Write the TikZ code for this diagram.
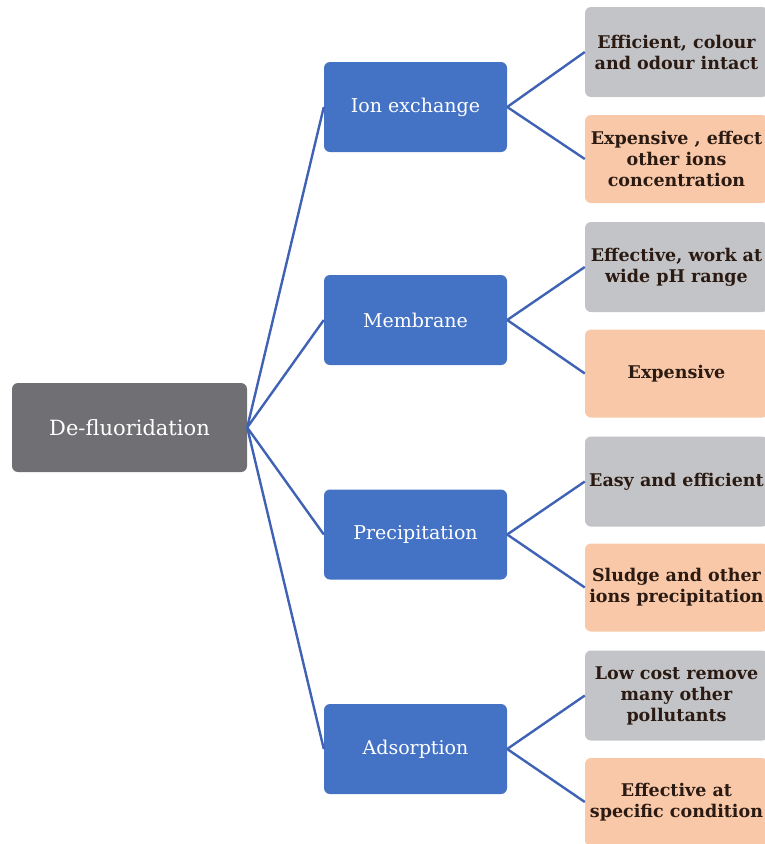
\documentclass[tikz,border=0pt]{standalone}
\usepackage{fontspec}
\setmainfont{DejaVu Serif}
\definecolor{rootgray}{HTML}{707074}
\definecolor{bluebox}{HTML}{4472C4}
\definecolor{linkblue}{HTML}{3F62B4}
\definecolor{lightgray}{HTML}{C3C4C8}
\definecolor{lightorange}{HTML}{F8C8A8}
\definecolor{darktext}{HTML}{2A1A12}
\begin{document}
\begin{tikzpicture}[x=1pt,y=-1pt,
  box/.style={rectangle,rounded corners=6pt,draw=none,align=center,inner sep=1pt},
  rootbox/.style={box,fill=rootgray,text=white,minimum width=235pt,minimum height=89pt,font=\fontsize{21}{25}\selectfont},
  methodbox/.style={box,fill=bluebox,text=white,minimum width=183pt,minimum height=90pt,font=\fontsize{19}{23}\selectfont},
  probox/.style={box,fill=lightgray,text=darktext,minimum width=183pt,minimum height=90pt,font=\bfseries\fontsize{17.5}{21}\selectfont},
  conbox/.style={box,fill=lightorange,text=darktext,minimum width=183pt,minimum height=88pt,font=\bfseries\fontsize{17.5}{21}\selectfont},
  link/.style={draw=linkblue,line width=2.4pt}]
\useasboundingbox (0,0) rectangle (765,844);
\begin{scope}
\clip (0,0) rectangle (765,844);
\node[rootbox] (root) at (129.5,427.5) {De-fluoridation};

\node[methodbox] (ion) at (415.5,107) {Ion exchange};
\node[methodbox] (mem) at (415.5,320) {Membrane};
\node[methodbox] (pre) at (415.5,534.5) {Precipitation};
\node[methodbox] (ads) at (415.5,749) {Adsorption};

\node[probox] (ionp) at (676.5,52) {Efficient, colour\\and odour intact};
\node[conbox] (ionc) at (676.5,159) {Expensive , effect\\other ions\\concentration};
\node[probox] (memp) at (676.5,267) {Effective, work at\\wide pH range};
\node[conbox] (memc) at (676.5,373.5) {Expensive};
\node[probox] (prep) at (676.5,481.5) {Easy and efficient};
\node[conbox] (prec) at (676.5,587.5) {Sludge and other\\ions precipitation};
\node[probox] (adsp) at (676.5,695.5) {Low cost remove\\many other\\pollutants};
\node[conbox] (adsc) at (676.5,802) {Effective at\\specific condition};

\foreach \m in {ion,mem,pre,ads}{
  \draw[link] (root.east) -- (\m.west);
  \draw[link] (\m.east) -- (\m p.west);
  \draw[link] (\m.east) -- (\m c.west);
}
\end{scope}
\end{tikzpicture}
\end{document}
